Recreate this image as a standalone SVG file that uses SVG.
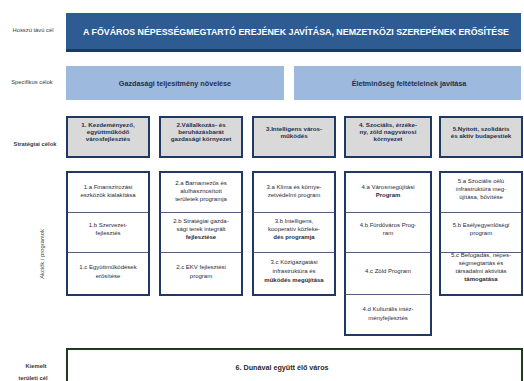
<svg xmlns="http://www.w3.org/2000/svg" width="524" height="381" viewBox="0 0 524 381">
<style>
text{font-family:"Liberation Sans","DejaVu Sans",sans-serif;text-anchor:middle}
.lbl{font-size:5.8px;fill:#3a3a3a}
.top{font-size:8.4px;font-weight:bold;fill:#fff}
.spec{font-size:7.2px;font-weight:bold;fill:#1f2f4a}
.strat{font-size:6.2px;font-weight:bold;fill:#1f2f4a}
.prog{font-size:6px;fill:#2a2a3a}
.b{font-weight:bold}
.sbox{fill:#d9d9d9;stroke:#1f3864;stroke-width:2}
.col{fill:#fff;stroke:#1f3864;stroke-width:2}
.div{stroke:#3d4d6e;stroke-width:0.9}
.specbox{fill:#9db9de}
</style>
<rect width="524" height="381" fill="#fff"/>
<g id="labels">
<text class="lbl" x="33" y="32">Hosszú távú cél</text>
<text class="lbl" x="32" y="84">Specifikus célok</text>
<text class="lbl b" x="35" y="146">Stratégiai célok</text>
<text class="lbl" transform="translate(44 254) rotate(-90)">Akciók / programok</text>
<text class="lbl b" x="36" y="368">Kiemelt</text>
<text class="lbl b" x="33" y="380">területi cél</text>
</g>
<g id="overall-goal">
<rect x="66" y="13" width="455" height="39" fill="#2f5b93"/>
<rect x="66" y="49" width="455" height="3" fill="#1b3a62"/>
<text class="top" x="296" y="35" textLength="426" lengthAdjust="spacingAndGlyphs">A FŐVÁROS NÉPESSÉGMEGTARTÓ EREJÉNEK JAVÍTÁSA, NEMZETKÖZI SZEREPÉNEK ERŐSÍTÉSE</text>
</g>
<g id="spec-1">
<rect class="specbox" x="66" y="66" width="218" height="34"/>
<text class="spec" x="175" y="86">Gazdasági teljesítmény növelése</text>
</g>
<g id="spec-2">
<rect class="specbox" x="294" y="66" width="227" height="34"/>
<text class="spec" x="409" y="86">Életminőség feltételeinek javítása</text>
</g>
<g id="strat-1">
<rect class="sbox" x="67" y="117" width="82" height="40"/>
<text class="strat" x="108" y="127">1. Kezdeményező,</text>
<text class="strat" x="108" y="134">együttműködő</text>
<text class="strat" x="108" y="141">városfejlesztés</text>
</g>
<g id="strat-2">
<rect class="sbox" x="160" y="117" width="82" height="40"/>
<text class="strat" x="201" y="127">2.Vállalkozás- és</text>
<text class="strat" x="201" y="134">beruházásbarát</text>
<text class="strat" x="201" y="141">gazdasági környezet</text>
</g>
<g id="strat-3">
<rect class="sbox" x="253" y="117" width="82" height="40"/>
<text class="strat" x="294" y="131">3.Intelligens város-</text>
<text class="strat" x="294" y="138">működés</text>
</g>
<g id="strat-4">
<rect class="sbox" x="345" y="117" width="86" height="40"/>
<text class="strat" x="388" y="127">4. Szociális, érzéke-</text>
<text class="strat" x="388" y="134">ny, zöld nagyvárosi</text>
<text class="strat" x="388" y="141">környezet</text>
</g>
<g id="strat-5">
<rect class="sbox" x="440" y="117" width="82" height="40"/>
<text class="strat" x="481" y="131">5.Nyitott, szolidáris</text>
<text class="strat" x="481" y="138">és aktív budapestiek</text>
</g>
<g id="programs-1">
<rect class="col" x="67" y="172" width="82" height="123"/>
<line class="div" x1="67" y1="212.5" x2="149" y2="212.5"/>
<line class="div" x1="67" y1="252.5" x2="149" y2="252.5"/>
<text class="prog" x="108" y="189">1.a Finanszírozási</text>
<text class="prog" x="108" y="197">eszközök kialakítása</text>
<text class="prog" x="108" y="227">1.b Szervezet-</text>
<text class="prog" x="108" y="235">fejlesztés</text>
<text class="prog" x="108" y="269">1.c Együttműködések</text>
<text class="prog" x="108" y="278">erősítése</text>
</g>
<g id="programs-2">
<rect class="col" x="160" y="172" width="82" height="123"/>
<line class="div" x1="160" y1="212.5" x2="242" y2="212.5"/>
<line class="div" x1="160" y1="252.5" x2="242" y2="252.5"/>
<text class="prog" x="201" y="185">2.a Barnamezős és</text>
<text class="prog" x="201" y="193">alulhasznosított</text>
<text class="prog" x="201" y="201">területek programja</text>
<text class="prog" x="201" y="223">2.b Stratégiai gazda-</text>
<text class="prog" x="201" y="231">sági terek integrált</text>
<text class="prog b" x="201" y="239">fejlesztése</text>
<text class="prog" x="201" y="269">2.c EKV fejlesztési</text>
<text class="prog" x="201" y="278">program</text>
</g>
<g id="programs-3">
<rect class="col" x="253" y="172" width="82" height="123"/>
<line class="div" x1="253" y1="212.5" x2="335" y2="212.5"/>
<line class="div" x1="253" y1="252.5" x2="335" y2="252.5"/>
<text class="prog" x="294" y="189">3.a Klíma és környe-</text>
<text class="prog" x="294" y="197">zetvédelmi program</text>
<text class="prog" x="294" y="223">3.b Intelligens,</text>
<text class="prog" x="294" y="231">kooperatív közleke-</text>
<text class="prog b" x="294" y="239">dés programja</text>
<text class="prog" x="294" y="264">3.c Közigazgatási</text>
<text class="prog" x="294" y="273">infrastruktúra és</text>
<text class="prog b" x="294" y="282">működés megújítása</text>
</g>
<g id="programs-4">
<rect class="col" x="345" y="172" width="86" height="163"/>
<line class="div" x1="345" y1="212.5" x2="431" y2="212.5"/>
<line class="div" x1="345" y1="252.5" x2="431" y2="252.5"/>
<line class="div" x1="345" y1="294.5" x2="431" y2="294.5"/>
<text class="prog" x="388" y="189">4.a Városmegújítási</text>
<text class="prog b" x="388" y="197">Program</text>
<text class="prog" x="388" y="227">4.b Fürdőváros Prog-</text>
<text class="prog" x="388" y="235">ram</text>
<text class="prog" x="388" y="273">4.c Zöld Program</text>
<text class="prog" x="388" y="311">4.d Kulturális intéz-</text>
<text class="prog" x="388" y="320">ményfejlesztés</text>
</g>
<g id="programs-5">
<rect class="col" x="440" y="172" width="82" height="123"/>
<line class="div" x1="440" y1="212.5" x2="522" y2="212.5"/>
<line class="div" x1="440" y1="252.5" x2="522" y2="252.5"/>
<text class="prog" x="481" y="183">5.a Szociális célú</text>
<text class="prog" x="481" y="191">infrastruktúra meg-</text>
<text class="prog" x="481" y="199">újítása, bővítése</text>
<text class="prog" x="481" y="227">5.b Esélyegyenlőségi</text>
<text class="prog" x="481" y="235">program</text>
<text class="prog" x="481" y="257">5.c Befogadás, népes-</text>
<text class="prog" x="481" y="265">ségmegtartás és</text>
<text class="prog" x="481" y="273">társadalmi aktivitás</text>
<text class="prog b" x="481" y="281">támogatása</text>
</g>
<g id="territorial-goal">
<rect x="67" y="349" width="455" height="40" fill="#fff" stroke="#1e3b1e" stroke-width="2"/>
<text x="282" y="370" style="font-size:7.2px;font-weight:bold;fill:#2a2a2a">6. Dunával együtt élő város</text>
</g>
<g id="connectors"/>
</svg>
